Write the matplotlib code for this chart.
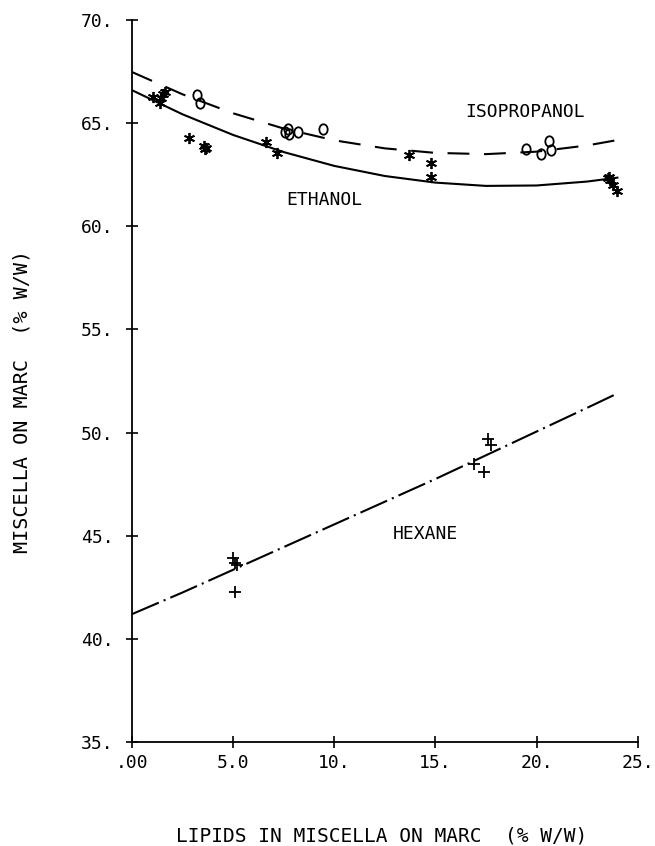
import numpy as np
import matplotlib.pyplot as plt
from matplotlib.markers import MarkerStyle
from matplotlib.transforms import Affine2D

ethanol_x = [1.03, 1.38, 1.53, 1.63, 1.45, 2.81, 3.55, 3.65, 3.6, 6.65, 7.19,
             13.7, 14.78, 14.78, 23.55, 23.65, 23.6, 23.8, 24.0]
ethanol_y = [66.27, 65.98, 66.41, 66.51, 66.2, 64.28, 63.9, 63.8, 63.75, 64.09, 63.55,
             63.46, 63.07, 62.39, 62.35, 62.25, 62.4, 62.0, 61.7]

isoprop_x = [3.2, 3.35, 7.55, 7.7, 7.75, 8.2, 9.46, 19.5, 20.2, 20.6, 20.7]
isoprop_y = [66.36, 65.98, 64.55, 64.7, 64.5, 64.57, 64.72, 63.75, 63.5, 64.15, 63.7]

hexane_x = [4.98, 5.07, 5.2, 5.07, 16.9, 17.4, 17.6, 17.75]
hexane_y = [43.92, 43.7, 43.6, 42.27, 48.46, 48.07, 49.7, 49.4]

# fitted curves read at regular x positions
curve_x = [0, 2.5, 5, 7.5, 10, 12.5, 15, 17.5, 20, 22.5, 24]
ethanol_fit = [66.60, 65.43, 64.43, 63.60, 62.93, 62.44, 62.12, 61.96, 61.98, 62.17, 62.36]
isoprop_fit_x = [0, 2.5, 5, 7.5, 10, 12.5, 15, 17.5, 20, 22.5, 24.5]
isoprop_fit = [67.48, 66.40, 65.48, 64.74, 64.17, 63.78, 63.56, 63.50, 63.62, 63.92, 64.27]
hexane_fit = [41.20, 42.25, 43.35, 44.45, 45.55, 46.65, 47.75, 48.90, 50.05, 51.20, 51.90]

xticks = [0, 5, 10, 15, 20, 25]
xtick_labels = [".00", "5.0", "10.", "15.", "20.", "25."]
yticks = [35, 40, 45, 50, 55, 60, 65, 70]
ytick_labels = ["35.", "40.", "45.", "50.", "55.", "60.", "65.", "70."]

plt.rcParams["font.family"] = "DejaVu Sans Mono"

fig = plt.figure(figsize=(6.55, 8.46), dpi=100)
ax = fig.add_axes([0.2015, 0.1229, 0.772, 0.8534])

ax.plot(curve_x, ethanol_fit, color="black", lw=1.5, ls="-")
ax.plot(isoprop_fit_x, isoprop_fit, color="black", lw=1.5, ls=(0, (10.5, 7)))
ax.plot(curve_x, hexane_fit, color="black", lw=1.5, ls=(0, (14, 2.5, 1, 2.5)))

ax.plot(ethanol_x, ethanol_y, ls="none", marker=(6, 2, 0), ms=8, mew=1.3, color="black")
oval = MarkerStyle("o", fillstyle="none", transform=Affine2D().scale(0.8, 1.0))
ax.plot(isoprop_x, isoprop_y, ls="none", marker=oval, ms=7.5, mew=1.3,
        color="black", markerfacecolor="white")
ax.plot(hexane_x, hexane_y, ls="none", marker="+", ms=9, mew=1.3, color="black")

ax.text(16.5, 65.56, "ISOPROPANOL", fontsize=13, va="center", ha="left")
ax.text(7.64, 61.27, "ETHANOL", fontsize=13, va="center", ha="left")
ax.text(12.9, 45.1, "HEXANE", fontsize=13, va="center", ha="left")

ax.set_xlim(0, 25)
ax.set_ylim(35, 70)
ax.set_xticks(xticks)
ax.set_xticklabels(xtick_labels)
ax.set_yticks(yticks)
ax.set_yticklabels(ytick_labels)
ax.tick_params(direction="inout", length=9, width=1.2, labelsize=13)
ax.tick_params(axis="x", pad=4)
ax.tick_params(axis="y", pad=9)
for side in ["top", "right"]:
    ax.spines[side].set_visible(False)
for side in ["left", "bottom"]:
    ax.spines[side].set_linewidth(1.3)
ax.patch.set_visible(False)

fig.text(0.582, 0.012, "LIPIDS IN MISCELLA ON MARC  (% W/W)", fontsize=14,
         ha="center", va="center")
fig.text(0.034, 0.525, "MISCELLA ON MARC  (% W/W)", fontsize=14.5,
         ha="center", va="center", rotation=90)

fig.savefig("out.png", dpi=100)
